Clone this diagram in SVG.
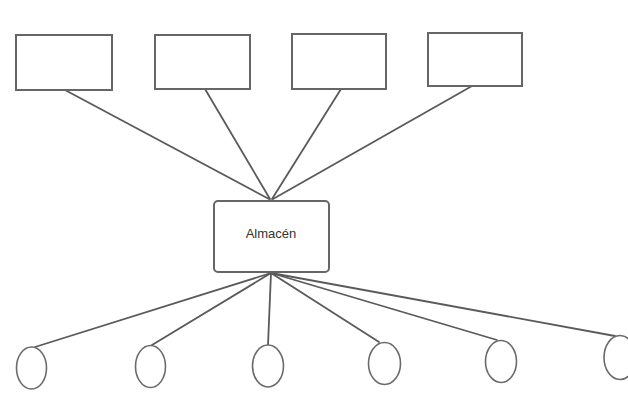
<svg xmlns="http://www.w3.org/2000/svg" width="628" height="394" viewBox="0 0 628 394">
<style>
.box{fill:#fff;stroke:#666;stroke-width:2}
.ell{fill:#fff;stroke:#6a6a6a;stroke-width:1.6}
.conn line{stroke:#5a5a5a;stroke-width:1.8;stroke-linecap:round}
.lbl{font-family:"Liberation Sans",Arial,sans-serif;font-size:13px;fill:#333;text-anchor:middle}
</style>
<rect width="628" height="394" fill="#fff"/>
<g id="connectors" class="conn">
<line x1="65" y1="90" x2="269" y2="199"/>
<line x1="205" y1="89" x2="270" y2="199"/>
<line x1="341" y1="89" x2="272" y2="199"/>
<line x1="472" y1="86" x2="273" y2="199"/>
<line x1="271" y1="273" x2="35" y2="347"/>
<line x1="271" y1="273" x2="152" y2="345"/>
<line x1="271" y1="273" x2="268" y2="345"/>
<line x1="271" y1="273" x2="379" y2="342"/>
<line x1="271" y1="273" x2="497" y2="340"/>
<line x1="271" y1="273" x2="615" y2="336"/>
</g>
<g id="box1"><rect class="box" x="16" y="35" width="96" height="55"/></g>
<g id="box2"><rect class="box" x="155" y="35" width="95" height="54"/></g>
<g id="box3"><rect class="box" x="292" y="34" width="94" height="55"/></g>
<g id="box4"><rect class="box" x="428" y="33" width="94" height="53"/></g>
<g id="almacen">
<rect class="box" x="214" y="201" width="115" height="71" rx="4"/>
<text class="lbl" x="271" y="238">Almacén</text>
</g>
<g id="c1"><ellipse class="ell" cx="31.5" cy="368" rx="15" ry="21"/></g>
<g id="c2"><ellipse class="ell" cx="150.5" cy="366.5" rx="15" ry="21"/></g>
<g id="c3"><ellipse class="ell" cx="268" cy="366" rx="15.5" ry="21"/></g>
<g id="c4"><ellipse class="ell" cx="384.5" cy="363.5" rx="16" ry="21"/></g>
<g id="c5"><ellipse class="ell" cx="501" cy="361.5" rx="15.5" ry="21"/></g>
<g id="c6"><ellipse class="ell" cx="620" cy="357.5" rx="16" ry="22"/></g>
</svg>
